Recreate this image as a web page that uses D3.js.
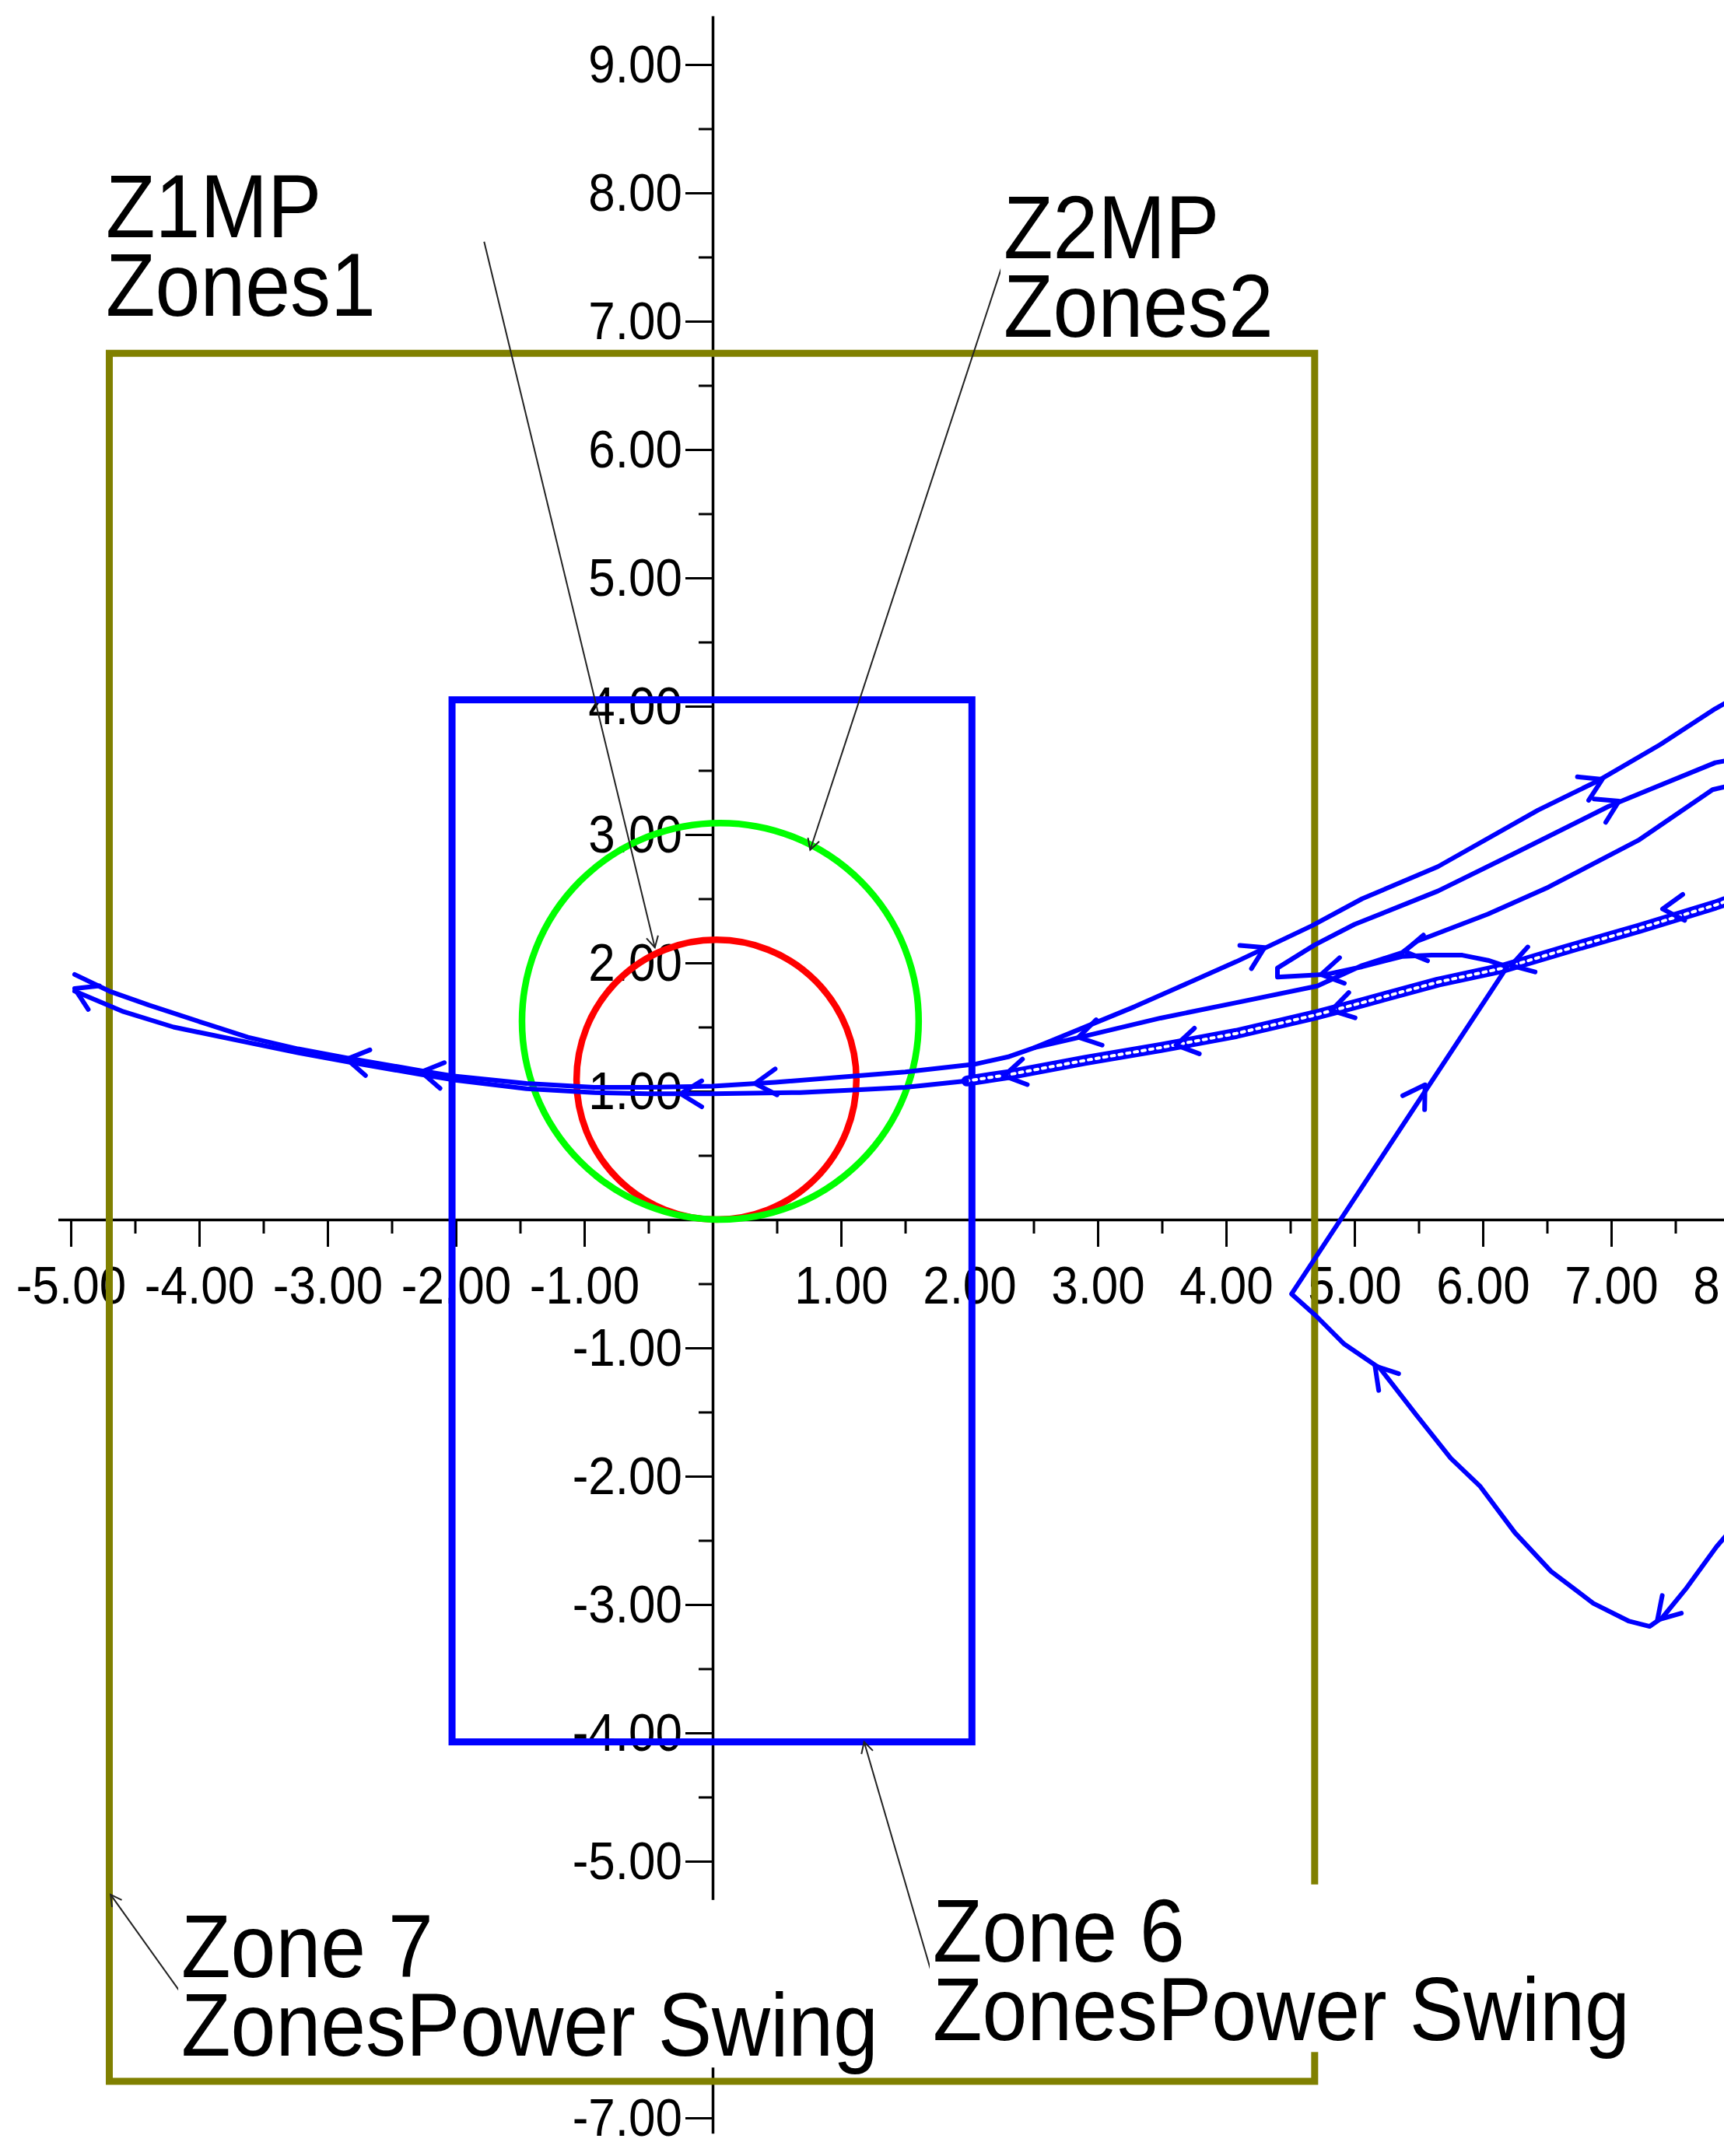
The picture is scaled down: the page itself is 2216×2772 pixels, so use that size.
<!DOCTYPE html>
<html>
<head>
<meta charset="utf-8">
<script src="https://cdn.jsdelivr.net/npm/d3@7"></script>
<style>
  html, body { margin: 0; padding: 0; background: #fff; }
  svg { display: block; font-family: "Liberation Sans", Arial, sans-serif; }
</style>
</head>
<body>
<svg id="chart"></svg>
<script>
// tick labels (R / X in ohms)
const xMajor = [-5, -4, -3, -2, -1, 1, 2, 3, 4, 5, 6, 7, 8];
const yMajor = [-7, -6, -5, -4, -3, -2, -1, 1, 2, 3, 4, 5, 6, 7, 8, 9];

// zone characteristics
const zone7X = [-4.70, 4.69];
const zone7Y = [-6.715, 6.75];
const zone6X = [-2.03, 2.02];
const zone6Y = [-4.07, 4.05];
const z1Center = [0.03, 1.09];
const z1Radius = 1.09;
const z2Center = [0.06, 1.545];
const z2Radius = 1.545;

// impedance trajectory
const swingPath = [
  [8.10, -2.22], [7.82, -2.55], [7.58, -2.88], [7.40, -3.10], [7.30, -3.17], [7.14, -3.13],
  [6.86, -2.99], [6.53, -2.74], [6.25, -2.44], [5.98, -2.08], [5.75, -1.86], [5.48, -1.52],
  [5.20, -1.16], [4.92, -0.97], [4.70, -0.75], [4.51, -0.58],
  [6.19, 1.97], [6.04, 2.02], [5.84, 2.06], [5.60, 2.06], [5.37, 2.05], [5.06, 1.97],
  [4.78, 1.91], [4.40, 1.89], [4.40, 1.96],
  [4.69, 2.14], [5.00, 2.30], [5.65, 2.56], [6.24, 2.85], [6.98, 3.22], [7.81, 3.56],
  [7.92, 3.58], [7.92, 3.38], [7.79, 3.35],
  [7.22, 2.96], [6.51, 2.59], [6.04, 2.38], [5.49, 2.17], [5.37, 2.08], [5.06, 1.98],
  [4.71, 1.82], [4.08, 1.69], [3.49, 1.57], [2.90, 1.43], [2.51, 1.34],
  [3.29, 1.66], [4.08, 2.01], [4.67, 2.29], [5.06, 2.50], [5.65, 2.75], [6.43, 3.19],
  [6.90, 3.42], [7.38, 3.70], [7.81, 3.98], [8.20, 4.20]
];
const returnChain = [
  [8.40, 2.66], [7.81, 2.45], [7.22, 2.27], [6.63, 2.10], [6.16, 1.96], [5.65, 1.85],
  [5.06, 1.69], [4.68, 1.59], [4.08, 1.45], [3.49, 1.34], [2.90, 1.24], [2.31, 1.13], [1.98, 1.08]
];
const returnLower = [
  [1.98, 1.08], [1.50, 1.03], [1.12, 1.01], [0.68, 0.99], [0, 0.98], [-0.50, 0.98],
  [-0.92, 0.99], [-1.45, 1.02], [-2.03, 1.09], [-2.27, 1.13], [-2.85, 1.23], [-3.23, 1.30],
  [-3.62, 1.38], [-4.20, 1.50], [-4.59, 1.62], [-4.97, 1.78]
];
const returnUpper = [
  [2.51, 1.34], [2.31, 1.27], [2.04, 1.21], [1.50, 1.15], [1.12, 1.12], [0.49, 1.07],
  [0, 1.04], [-0.50, 1.03], [-0.92, 1.03], [-1.45, 1.06], [-2.03, 1.12], [-2.27, 1.16],
  [-2.85, 1.26], [-3.23, 1.33], [-3.62, 1.42], [-3.93, 1.52], [-4.39, 1.67], [-4.70, 1.78],
  [-4.97, 1.91]
];
// direction arrows: [tipX, tipY, fromX, fromY]
const arrowMarks = [
  [7.36, -3.12, 7.60, -2.86], [5.16, -1.14, 5.48, -1.52], [5.55, 1.05, 4.51, -0.58],
  [4.74, 1.91, 5.06, 1.97], [7.06, 3.26, 6.24, 2.85], [5.39, 2.09, 5.70, 2.14],
  [2.85, 1.42, 3.49, 1.57], [4.30, 2.12, 4.08, 2.01], [6.93, 3.43, 6.43, 3.19],
  [7.40, 2.42, 7.81, 2.45], [6.22, 1.98, 6.63, 2.10], [4.82, 1.63, 5.06, 1.69],
  [3.61, 1.36, 4.08, 1.45], [2.27, 1.12, 2.90, 1.24],
  [0.33, 1.06, 1.12, 1.12], [-0.25, 0.98, 0.30, 0.98],
  [-2.27, 1.15, -2.03, 1.11], [-2.85, 1.25, -2.50, 1.19], [-4.97, 1.80, -4.59, 1.62]
];

// zone annotations: text, first baseline anchor, leader [shape point, label end]
const zoneLabels = [
  { lines: ['Z1MP', 'Zones1'], at: [-4.727, 7.655], lead: [[-0.45, 2.12], [-1.78, 7.62]] },
  { lines: ['Z2MP', 'Zones2'], at: [2.267, 7.491], lead: [[0.76, 2.88], [2.258, 7.44]] },
  { lines: ['Zone 7', 'ZonesPower Swing'], at: [-4.139, -5.903], lead: [[-4.69, -5.26], [-4.14, -6.03]] },
  { lines: ['Zone 6', 'ZonesPower Swing'], at: [1.715, -5.782], lead: [[1.18, -4.07], [1.72, -5.92]] }
];

const W = 2216, H = 2772;
const unit = 165, ox = 916, oy = 1568;
const xDomain = [-5.1, 8.5];
const yDomain = [-7.12, 9.38];

const x = d3.scaleLinear().domain(xDomain).range(xDomain.map(v => ox + v * unit));
const y = d3.scaleLinear().domain(yDomain).range(yDomain.map(v => oy - v * unit));

const svg = d3.select('#chart').attr('width', W).attr('height', H);
svg.append('rect').attr('width', W).attr('height', H).attr('fill', '#fff');

const fmt = d3.formatLocale({ decimal: '.', thousands: ',', grouping: [3], currency: ['', ''], minus: '-' }).format('.2f');
const stretch = 1.12; // the plot's lettering is a bit taller than Arial

// axes
const xAxisG = svg.append('g').attr('transform', `translate(0,${y(0)})`);
xAxisG.call(d3.axisBottom(x).tickValues(xMajor).tickSize(35).tickSizeOuter(0).tickPadding(17).tickFormat(fmt));
xAxisG.append('g')
  .call(d3.axisBottom(x).tickValues(d3.range(-5, 8.01, 0.5).filter(v => v % 1 !== 0)).tickSize(18).tickFormat(''))
  .select('.domain').remove();

const yAxisG = svg.append('g').attr('transform', `translate(${x(0)},0)`);
yAxisG.call(d3.axisLeft(y).tickValues(yMajor).tickSize(35).tickSizeOuter(0).tickPadding(4).tickFormat(fmt));
yAxisG.append('g')
  .call(d3.axisLeft(y).tickValues(d3.range(-7, 9.01, 0.5).filter(v => v % 1 !== 0)).tickSize(18).tickFormat(''))
  .select('.domain').remove();

[xAxisG, yAxisG].forEach(g => {
  g.attr('font-size', null).attr('font-family', null);
  g.selectAll('.domain').attr('stroke', '#000').attr('stroke-width', 3.5);
  g.selectAll('.tick line').attr('stroke', '#000').attr('stroke-width', 3);
  g.selectAll('.tick text').attr('fill', '#000').style('font-size', '62px')
    .attr('transform', `scale(1,${stretch})`);
});

// zones
svg.append('rect')
  .attr('x', x(zone7X[0])).attr('y', y(zone7Y[1]))
  .attr('width', x(zone7X[1]) - x(zone7X[0])).attr('height', y(zone7Y[0]) - y(zone7Y[1]))
  .attr('fill', 'none').attr('stroke', '#808000').attr('stroke-width', 9);

svg.append('rect')
  .attr('x', x(zone6X[0])).attr('y', y(zone6Y[1]))
  .attr('width', x(zone6X[1]) - x(zone6X[0])).attr('height', y(zone6Y[0]) - y(zone6Y[1]))
  .attr('fill', 'none').attr('stroke', '#0000ff').attr('stroke-width', 9);

svg.append('ellipse')
  .attr('cx', x(z1Center[0])).attr('cy', y(z1Center[1]))
  .attr('rx', x(z1Center[0] + z1Radius) - x(z1Center[0]))
  .attr('ry', y(z1Center[1] - z1Radius) - y(z1Center[1]))
  .attr('fill', 'none').attr('stroke', '#ff0000').attr('stroke-width', 8.5);

svg.append('ellipse')
  .attr('cx', x(z2Center[0])).attr('cy', y(z2Center[1]))
  .attr('rx', x(z2Center[0] + z2Radius) - x(z2Center[0]))
  .attr('ry', y(z2Center[1] - z2Radius) - y(z2Center[1]))
  .attr('fill', 'none').attr('stroke', '#00ff00').attr('stroke-width', 8.5);

// trajectory
const line = d3.line().x(d => x(d[0])).y(d => y(d[1]));
const traj = svg.append('g').attr('fill', 'none').attr('stroke', '#0000ff')
  .attr('stroke-linejoin', 'round').attr('stroke-linecap', 'round');

// the doubled pass reads as a beaded rope: thick stroke with white holes
traj.append('path').attr('d', line(returnChain)).attr('stroke-width', 14);
traj.append('path').attr('d', line(returnChain)).attr('stroke', '#fff')
  .attr('stroke-width', 4).attr('stroke-dasharray', '4 6');
[swingPath, returnLower, returnUpper].forEach(p => {
  traj.append('path').attr('d', line(p)).attr('stroke-width', 6);
});

function barbs(tip, from, len, spread) {
  const tx = x(tip[0]), ty = y(tip[1]);
  const a = Math.atan2(ty - y(from[1]), tx - x(from[0]));
  const p1 = [tx - len * Math.cos(a - spread), ty - len * Math.sin(a - spread)];
  const p2 = [tx - len * Math.cos(a + spread), ty - len * Math.sin(a + spread)];
  return `M${p1}L${tx},${ty}L${p2}`;
}

traj.selectAll('path.arrow')
  .data(arrowMarks)
  .enter()
  .append('path')
  .attr('class', 'arrow')
  .attr('stroke-width', 6)
  .attr('d', d => barbs([d[0], d[1]], [d[2], d[3]], 32, 0.55));

// annotations
zoneLabels.forEach(l => {
  svg.append('line')
    .attr('x1', x(l.lead[0][0])).attr('y1', y(l.lead[0][1]))
    .attr('x2', x(l.lead[1][0])).attr('y2', y(l.lead[1][1]))
    .attr('stroke', '#222').attr('stroke-width', 2);
  svg.append('path')
    .attr('d', barbs(l.lead[0], l.lead[1], 16, 0.5))
    .attr('fill', 'none').attr('stroke', '#222').attr('stroke-width', 2);
});

const labelStretch = 1.1;
zoneLabels.forEach(l => {
  const ax = x(l.at[0]), ay = y(l.at[1]);
  const g = svg.append('g')
    .attr('transform', `translate(${ax},${ay}) scale(1,${labelStretch}) translate(${-ax},${-ay})`);
  const t = g.append('text')
    .attr('x', ax).attr('y', ay)
    .attr('fill', '#000').style('font-size', '104px');
  l.lines.forEach((s, i) => {
    t.append('tspan').attr('x', ax).attr('dy', i ? 101 / labelStretch : 0).text(s);
  });
  const bb = t.node().getBBox();
  g.insert('rect', 'text')
    .attr('x', bb.x - 4).attr('y', bb.y + 4)
    .attr('width', bb.width + 8).attr('height', bb.height - 12)
    .attr('fill', '#fff');
});
</script>
</body>
</html>
